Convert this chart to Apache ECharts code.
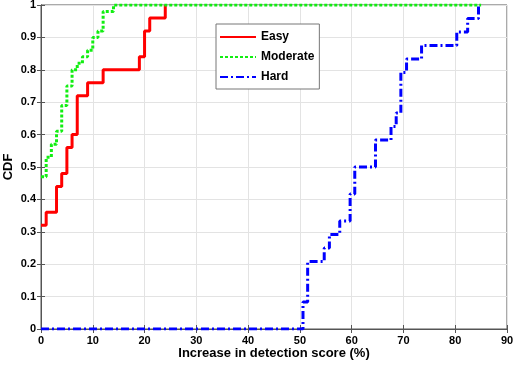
<!DOCTYPE html>
<html>
<head>
<meta charset="utf-8">
<script src="https://cdn.jsdelivr.net/npm/echarts@6/dist/echarts.min.js"></script>
<style>
html, body { margin: 0; padding: 0; background: #fff; }
#chart { width: 513px; height: 369px; }
</style>
</head>
<body>
<div id="chart"></div>
<script>
// step points: CDF jumps to y at x
var easyX = [0, 1, 3, 4, 5, 6, 7, 9, 12, 19, 20, 21, 24];
var easyY = [0.32, 0.36, 0.44, 0.48, 0.56, 0.60, 0.72, 0.76, 0.80, 0.84, 0.92, 0.96, 1];

var moderateX = [0, 1, 2, 3, 4, 5, 6, 7, 8, 9, 10, 11, 12, 14, 85];
var moderateY = [0.47, 0.53, 0.57, 0.61, 0.69, 0.75, 0.80, 0.82, 0.84, 0.86, 0.90, 0.92, 0.98, 1, 1];

var hardX = [0, 50.6, 51.5, 54.7, 55.7, 57.7, 59.7, 60.6, 64.6, 67.6, 68.6, 69.5, 70.6, 73.5, 80.3, 82.4, 84.5];
var hardY = [0, 0.083, 0.208, 0.25, 0.292, 0.333, 0.417, 0.5, 0.583, 0.625, 0.667, 0.792, 0.833, 0.875, 0.917, 0.958, 1];

var seriesNames = ['Easy', 'Moderate', 'Hard'];

function pairs(xs, ys) {
    var out = [];
    for (var i = 0; i < xs.length; i++) {
        out.push([xs[i], ys[i]]);
    }
    return out;
}

var font = 'Liberation Sans, Arial, sans-serif';
var gridColor = '#e3e3e3';
var frameColor = '#555';

var option = {
    animation: false,
    grid: { left: 41, right: 6, top: 5, bottom: 40, outerBoundsMode: 'none', containLabel: false,
        show: true, borderColor: frameColor, borderWidth: 1 },
    legend: {
        orient: 'vertical',
        left: 216,
        top: 24,
        data: seriesNames,
        itemWidth: 36,
        itemHeight: 14,
        itemGap: 8,
        padding: [7, 5, 6, 3],
        borderColor: '#777',
        borderWidth: 1,
        backgroundColor: '#fff',
        itemStyle: { opacity: 0 },
        textStyle: { fontFamily: font, fontWeight: 'bold', fontSize: 12, color: '#000' }
    },
    xAxis: [{
        type: 'value',
        min: 0, max: 90, interval: 10,
        name: 'Increase in detection score (%)',
        nameLocation: 'middle',
        nameGap: 18,
        nameMoveOverlap: false,
        nameTextStyle: { fontFamily: font, fontWeight: 'bold', fontSize: 13, color: '#000' },
        axisLine: { lineStyle: { color: frameColor } },
        axisTick: { inside: true, length: 4, lineStyle: { color: frameColor } },
        axisLabel: { fontFamily: font, fontWeight: 'bold', fontSize: 11, color: '#000', margin: 6 },
        splitLine: { lineStyle: { color: gridColor } }
    }, {
        type: 'value', position: 'top',
        min: 0, max: 90, interval: 10,
        axisLine: { show: true, lineStyle: { color: frameColor } },
        axisTick: { show: true, inside: true, length: 4, lineStyle: { color: frameColor } },
        axisLabel: { show: false },
        splitLine: { show: false }
    }],
    yAxis: [{
        type: 'value',
        min: 0, max: 1, interval: 0.1,
        name: 'CDF',
        nameLocation: 'middle',
        nameGap: 26,
        nameMoveOverlap: false,
        nameTextStyle: { fontFamily: font, fontWeight: 'bold', fontSize: 13, color: '#000' },
        axisLine: { show: true, lineStyle: { color: frameColor } },
        axisTick: { show: true, inside: true, length: 4, lineStyle: { color: frameColor } },
        axisLabel: { fontFamily: font, fontWeight: 'bold', fontSize: 11, color: '#000', margin: 5 },
        splitLine: { lineStyle: { color: gridColor } }
    }, {
        type: 'value', position: 'right',
        min: 0, max: 1, interval: 0.1,
        axisLine: { show: true, lineStyle: { color: frameColor } },
        axisTick: { show: true, inside: true, length: 4, lineStyle: { color: frameColor } },
        axisLabel: { show: false },
        splitLine: { show: false }
    }],
    series: [{
        name: 'Easy',
        type: 'line',
        step: 'end',
        symbol: 'none',
        data: pairs(easyX, easyY),
        lineStyle: { color: '#ff0000', width: 3, type: 'solid' },
        itemStyle: { color: '#ff0000' },
        z: 2
    }, {
        name: 'Moderate',
        type: 'line',
        step: 'end',
        symbol: 'none',
        data: pairs(moderateX, moderateY),
        lineStyle: { color: '#11ee11', width: 3, type: [3, 2] },
        itemStyle: { color: '#11ee11' },
        z: 3
    }, {
        name: 'Hard',
        type: 'line',
        step: 'end',
        symbol: 'none',
        data: pairs(hardX, hardY),
        lineStyle: { color: '#0000ff', width: 3, type: [8, 3, 2, 3] },
        itemStyle: { color: '#0000ff' },
        z: 4
    }]
};

var myChart = echarts.init(document.getElementById('chart'));
myChart.setOption(option);
</script>
</body>
</html>
